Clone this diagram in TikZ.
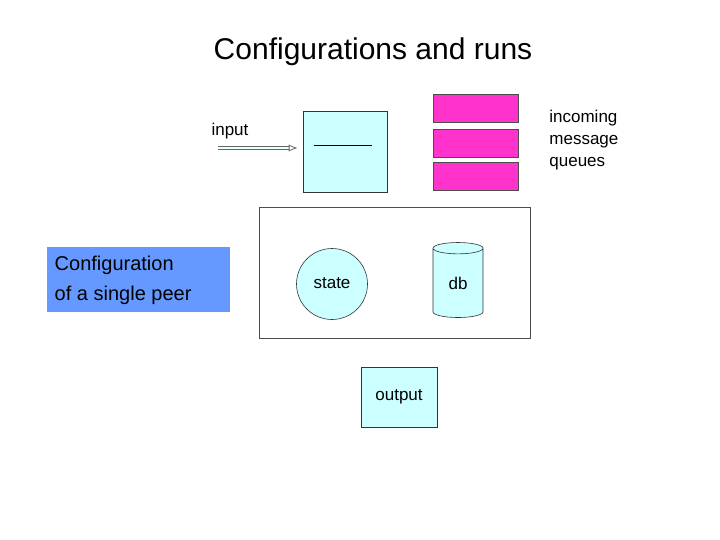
\documentclass[tikz,border=0pt]{standalone}
\usepackage{fontspec}
\setmainfont{Liberation Sans}
\usetikzlibrary{shapes.geometric,arrows.meta}
\definecolor{paleCyan}{HTML}{CCFFFF}
\definecolor{queuePink}{HTML}{FF33CC}
\definecolor{peerBlue}{HTML}{6699FF}
\begin{document}
\begin{tikzpicture}[x=1pt,y=-1pt, thick,
  box node/.style={draw=black!80,fill=paleCyan,semithick,inner sep=0pt},
  queue node/.style={draw=black!70,fill=queuePink,thin,minimum width=85pt,minimum height=28pt,inner sep=0pt},
  label node/.style={font=\fontsize{17}{22}\selectfont,align=left}]
\useasboundingbox (0,0) rectangle (720,540);
\node (title) at (373,52) {\fontsize{30}{34}\selectfont Configurations and runs};
\node[box node,minimum width=84pt,minimum height=81pt] (inbox) at (345,151.5) {};
\draw[thin] (314,145) -- (372,145);
\node[label node] (inlabel) at (230,131) {input};
\coordinate (instart) at (218,148);
\draw[draw=black!60,double=paleCyan!50,double distance=2.5pt,-{Latex[open,length=9pt,width=7pt]}] (instart) -- ([xshift=-5pt]inbox.west |- instart);
\node[queue node] (q1) at (475.5,108) {};
\node[queue node] (q2) at (475.5,143.5) {};
\node[queue node] (q3) at (475.5,176) {};
\node[label node,anchor=north west,inner sep=0pt] (qlabel) at (549,110) {incoming\\message\\queues};
\node[draw=black!70,thin,minimum width=271pt,minimum height=131pt] (peer) at (394.5,272.5) {};
\node[box node,circle,minimum size=71pt,font=\fontsize{17}{20}\selectfont] (state) at (332,284) {\raisebox{2pt}{state}};
\node[box node,cylinder,shape border rotate=90,aspect=0.6,minimum width=50pt,minimum height=75pt,font=\fontsize{17}{20}\selectfont] (db) at (458,283) {\raisebox{-8pt}{db}};
\node[box node,minimum width=76pt,minimum height=60pt,font=\fontsize{17}{20}\selectfont] (output) at (399,397) {output};
\node[fill=peerBlue,minimum width=183pt,minimum height=65pt,inner sep=0pt] (cfgbox) at (138.5,279.5) {};
\node[anchor=west,align=left,font=\fontsize{20}{30}\selectfont] (cfg) at (51,280) {Configuration\\of a single peer};
\end{tikzpicture}
\end{document}
